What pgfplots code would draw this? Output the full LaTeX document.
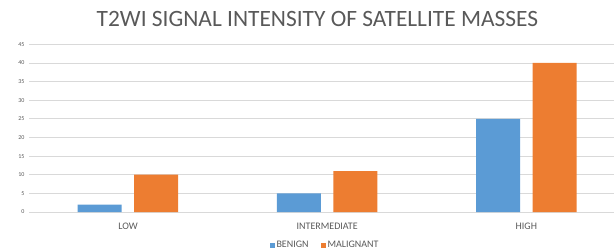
\documentclass[border=0pt]{standalone}
\usepackage{fontspec}
\setmainfont{Carlito}
\usepackage{pgfplots}
\pgfplotsset{compat=1.18}
\definecolor{cblue}{HTML}{5B9BD5}
\definecolor{corange}{HTML}{ED7D31}
\definecolor{cgrid}{HTML}{D9D9D9}
\definecolor{ctext}{HTML}{595959}
\begin{document}
\begin{tikzpicture}
\path[use as bounding box] (-29pt,-38pt) rectangle (585pt,212pt);
\begin{axis}[
  at={(0pt,0pt)}, anchor=south west,
  scale only axis,
  width=585pt, height=167.7pt,
  ybar=12.5pt, bar width=44pt,
  xmin=-0.497, xmax=2.44,
  ymin=0, ymax=45,
  ytick={0,5,...,45},
  xtick={0,1,2},
  xticklabels={LOW,INTERMEDIATE,HIGH},
  ymajorgrids, grid style={cgrid, line width=0.8pt},
  axis line style={draw=none},
  major tick length=0pt,
  /pgf/number format/assume math mode=true,
  yticklabel style={font=\fontsize{6}{7}\selectfont, text=ctext, xshift=-1pt},
  xticklabel style={font=\fontsize{10}{12}\selectfont, text=ctext, yshift=-7.5pt},
  legend style={draw=none, fill=none, at={(rel axis cs:0.506,-0.197)}, anchor=center,
    legend columns=2, font=\fontsize{10}{12}\selectfont, text=ctext,
    inner sep=1pt,
    /tikz/every even column/.append style={column sep=10pt}},
  legend image code/.code={\fill[#1] (0pt,-2.5pt) rectangle (5pt,2.5pt);},
  clip=false,
]
\addplot[fill=cblue, draw=none] coordinates {(0,2) (1,5) (2,25)};
\addplot[fill=corange, draw=none] coordinates {(0,10) (1,11) (2,40)};
\legend{BENIGN, MALIGNANT}
\node[font=\fontsize{23.4}{28}\selectfont, text=ctext] at (rel axis cs:0.493,1.15) {T2WI SIGNAL INTENSITY OF SATELLITE MASSES};
\end{axis}
\end{tikzpicture}
\end{document}
